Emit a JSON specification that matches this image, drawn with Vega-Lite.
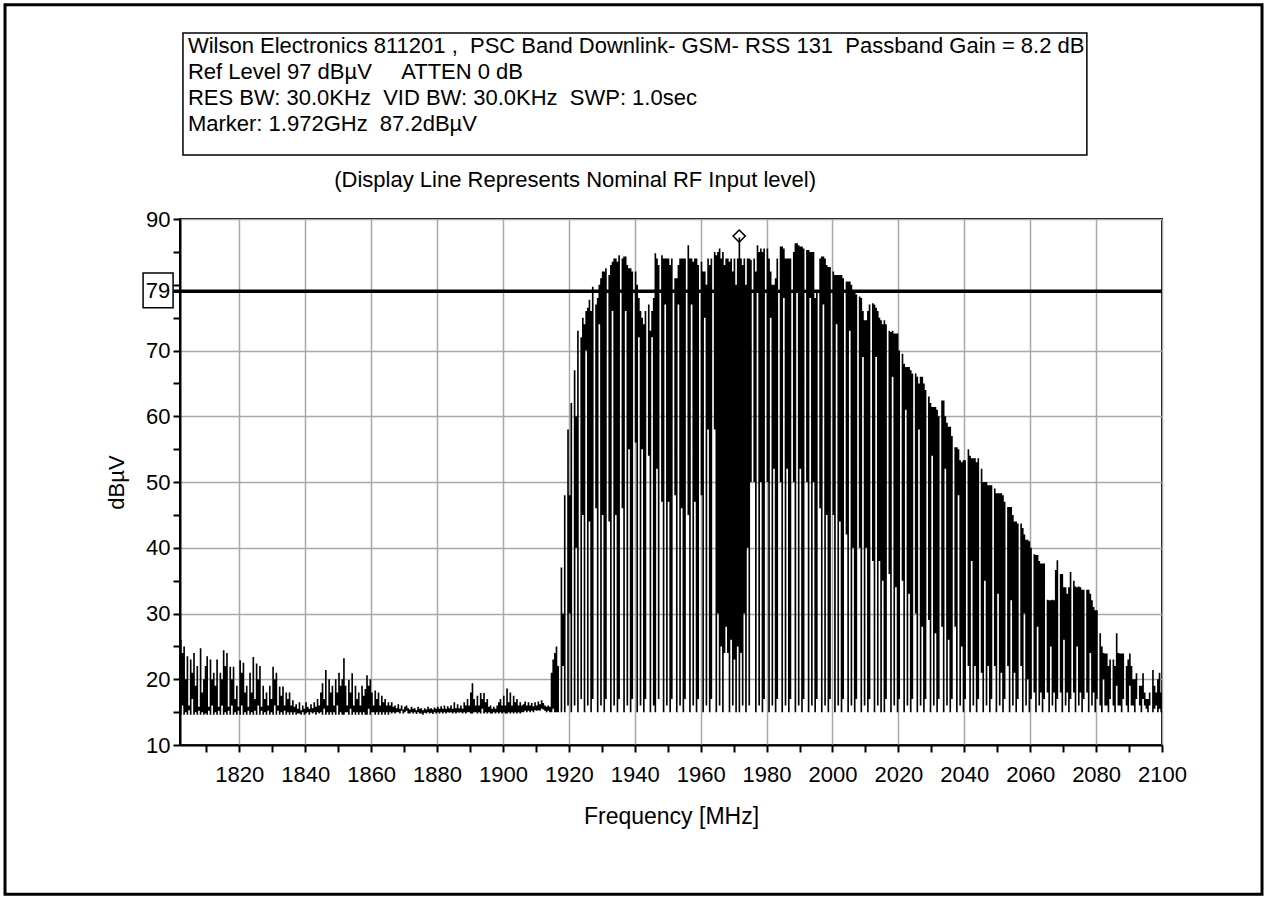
{
"$schema": "https://vega.github.io/schema/vega-lite/v6.json",
"width": 982,
"height": 526,
"autosize": {"type": "none"},
"padding": {"left": 180, "top": 219, "right": 105, "bottom": 153},
"background": "white",
"config": {"view": {"stroke": "black", "strokeWidth": 2}, "font": "Liberation Sans"},
"layer": [
{
"data": {"values": [
{"f":1802,"hi":26,"lo":14.6},{"f":1802.5,"hi":24,"lo":16},{"f":1803,"hi":25,"lo":14.6},{"f":1803.5,"hi":20,"lo":15},{"f":1804,"hi":23.5,"lo":14.6},{"f":1804.5,"hi":16,"lo":15.3},{"f":1805,"hi":23,"lo":14.6},{"f":1805.5,"hi":21,"lo":17},{"f":1806,"hi":24,"lo":14.6},{"f":1806.5,"hi":19,"lo":15},{"f":1807,"hi":22,"lo":14.6},{"f":1807.5,"hi":15.8,"lo":15.2},{"f":1808,"hi":24.7,"lo":14.6},{"f":1808.5,"hi":18,"lo":15},{"f":1809,"hi":20,"lo":14.6},{"f":1809.5,"hi":22,"lo":14.8},{"f":1810,"hi":23.5,"lo":14.6},{"f":1810.5,"hi":15.8,"lo":15.2},{"f":1811,"hi":23,"lo":14.6},{"f":1811.5,"hi":20,"lo":16},{"f":1812,"hi":21,"lo":14.6},{"f":1812.5,"hi":19,"lo":15},{"f":1813,"hi":23,"lo":14.6},{"f":1813.5,"hi":15.8,"lo":15.2},{"f":1814,"hi":21,"lo":14.6},{"f":1814.5,"hi":20,"lo":16},{"f":1815,"hi":24.4,"lo":14.6},{"f":1815.5,"hi":22,"lo":15},{"f":1816,"hi":24,"lo":14.6},{"f":1816.5,"hi":15.8,"lo":15.2},{"f":1817,"hi":21.9,"lo":14.6},{"f":1817.5,"hi":20,"lo":16},{"f":1818,"hi":21.9,"lo":14.6},{"f":1818.5,"hi":17,"lo":15},{"f":1819,"hi":19,"lo":14.6},{"f":1819.5,"hi":15.8,"lo":15.2},{"f":1820,"hi":22.9,"lo":14.6},{"f":1820.5,"hi":21,"lo":16},{"f":1821,"hi":22.5,"lo":14.6},{"f":1821.5,"hi":18,"lo":15},{"f":1822,"hi":19,"lo":14.6},{"f":1822.5,"hi":15.8,"lo":15.2},{"f":1823,"hi":21,"lo":14.6},{"f":1823.5,"hi":18,"lo":15},{"f":1824,"hi":23.4,"lo":14.6},{"f":1824.5,"hi":17,"lo":15.2},{"f":1825,"hi":22.4,"lo":14.6},{"f":1825.5,"hi":20,"lo":16},{"f":1826,"hi":22,"lo":14.6},{"f":1826.5,"hi":15.8,"lo":15.2},{"f":1827,"hi":19,"lo":14.6},{"f":1827.5,"hi":17,"lo":15},{"f":1828,"hi":18,"lo":14.6},{"f":1828.5,"hi":16,"lo":15.2},{"f":1829,"hi":19,"lo":14.6},{"f":1829.5,"hi":17,"lo":15},{"f":1830,"hi":21.9,"lo":14.6},{"f":1830.5,"hi":20,"lo":16},{"f":1831,"hi":21,"lo":14.6},{"f":1831.5,"hi":16,"lo":15.2},{"f":1832,"hi":18.9,"lo":14.6},{"f":1832.5,"hi":17.5,"lo":15},{"f":1833,"hi":18.9,"lo":14.6},{"f":1833.5,"hi":16,"lo":15.2},{"f":1834,"hi":18,"lo":14.6},{"f":1834.5,"hi":17,"lo":15},{"f":1835,"hi":18,"lo":14.6},{"f":1835.5,"hi":16,"lo":15},{"f":1836,"hi":16.8,"lo":14.6},{"f":1836.5,"hi":15.8,"lo":15},{"f":1837,"hi":16.2,"lo":14.6},{"f":1837.5,"hi":15.5,"lo":14.8},{"f":1838,"hi":16.5,"lo":14.8},{"f":1838.5,"hi":15.3,"lo":14.6},{"f":1839,"hi":16,"lo":15},{"f":1839.5,"hi":15.5,"lo":14.6},{"f":1840,"hi":16.5,"lo":14.8},{"f":1840.5,"hi":15.8,"lo":15},{"f":1841,"hi":15.5,"lo":14.6},{"f":1841.5,"hi":16.2,"lo":15},{"f":1842,"hi":15.6,"lo":14.8},{"f":1842.5,"hi":16.5,"lo":15},{"f":1843,"hi":15.8,"lo":14.6},{"f":1843.5,"hi":17,"lo":15},{"f":1844,"hi":16,"lo":14.8},{"f":1844.5,"hi":18,"lo":15},{"f":1845,"hi":19.4,"lo":14.6},{"f":1845.5,"hi":17,"lo":15.5},{"f":1846,"hi":21.4,"lo":14.6},{"f":1846.5,"hi":16,"lo":15},{"f":1847,"hi":20,"lo":14.6},{"f":1847.5,"hi":18,"lo":15},{"f":1848,"hi":19,"lo":14.6},{"f":1848.5,"hi":16,"lo":15},{"f":1849,"hi":20,"lo":14.6},{"f":1849.5,"hi":18,"lo":16},{"f":1850,"hi":21,"lo":14.6},{"f":1850.5,"hi":19,"lo":15},{"f":1851,"hi":20,"lo":14.6},{"f":1851.5,"hi":23.2,"lo":14.6},{"f":1852,"hi":19,"lo":15},{"f":1852.5,"hi":16,"lo":15},{"f":1853,"hi":19.9,"lo":14.6},{"f":1853.5,"hi":18,"lo":15.5},{"f":1854,"hi":20.9,"lo":14.6},{"f":1854.5,"hi":16,"lo":15},{"f":1855,"hi":19,"lo":14.6},{"f":1855.5,"hi":17,"lo":15},{"f":1856,"hi":18,"lo":14.6},{"f":1856.5,"hi":16,"lo":15},{"f":1857,"hi":19,"lo":14.6},{"f":1857.5,"hi":17.5,"lo":15},{"f":1858,"hi":18.5,"lo":14.6},{"f":1858.5,"hi":20.6,"lo":14.6},{"f":1859,"hi":19,"lo":15.5},{"f":1859.5,"hi":20,"lo":14.6},{"f":1860,"hi":18,"lo":15},{"f":1860.5,"hi":16,"lo":15},{"f":1861,"hi":18.3,"lo":14.6},{"f":1861.5,"hi":17,"lo":15},{"f":1862,"hi":18,"lo":14.6},{"f":1862.5,"hi":16,"lo":15},{"f":1863,"hi":17.5,"lo":14.6},{"f":1863.5,"hi":16.5,"lo":15},{"f":1864,"hi":17,"lo":14.6},{"f":1864.5,"hi":16,"lo":15},{"f":1865,"hi":16.5,"lo":14.6},{"f":1865.5,"hi":16,"lo":15},{"f":1866,"hi":16.5,"lo":14.8},{"f":1866.5,"hi":15.8,"lo":15},{"f":1867,"hi":16,"lo":14.8},{"f":1867.5,"hi":15.6,"lo":15},{"f":1868,"hi":16.2,"lo":15},{"f":1868.5,"hi":15.5,"lo":14.8},{"f":1869,"hi":16,"lo":15.2},{"f":1869.5,"hi":15.4,"lo":14.8},{"f":1870,"hi":15.8,"lo":15},{"f":1870.5,"hi":16,"lo":15.2},{"f":1871,"hi":15.6,"lo":14.8},{"f":1871.5,"hi":15.4,"lo":14.8},{"f":1872,"hi":15.8,"lo":15},{"f":1872.5,"hi":15.5,"lo":14.8},{"f":1873,"hi":15.6,"lo":15},{"f":1873.5,"hi":15.3,"lo":14.7},{"f":1874,"hi":15.8,"lo":15},{"f":1874.5,"hi":15.5,"lo":14.8},{"f":1875,"hi":15.6,"lo":14.8},{"f":1875.5,"hi":15.3,"lo":14.6},{"f":1876,"hi":15.6,"lo":14.9},{"f":1876.5,"hi":15.4,"lo":14.8},{"f":1877,"hi":15.8,"lo":15},{"f":1877.5,"hi":15.5,"lo":14.8},{"f":1878,"hi":15.6,"lo":14.9},{"f":1878.5,"hi":15.4,"lo":14.7},{"f":1879,"hi":15.7,"lo":15},{"f":1879.5,"hi":15.5,"lo":14.8},{"f":1880,"hi":15.8,"lo":15},{"f":1880.5,"hi":15.5,"lo":14.8},{"f":1881,"hi":15.9,"lo":15},{"f":1881.5,"hi":15.5,"lo":14.8},{"f":1882,"hi":16,"lo":15},{"f":1882.5,"hi":15.5,"lo":14.8},{"f":1883,"hi":15.9,"lo":15},{"f":1883.5,"hi":15.6,"lo":14.9},{"f":1884,"hi":16,"lo":15},{"f":1884.5,"hi":15.5,"lo":14.8},{"f":1885,"hi":16.5,"lo":15},{"f":1885.5,"hi":15.6,"lo":14.8},{"f":1886,"hi":16.2,"lo":15},{"f":1886.5,"hi":15.6,"lo":14.9},{"f":1887,"hi":16,"lo":15},{"f":1887.5,"hi":15.5,"lo":14.8},{"f":1888,"hi":16.5,"lo":15},{"f":1888.5,"hi":16,"lo":14.8},{"f":1889,"hi":17,"lo":15},{"f":1889.5,"hi":16,"lo":15},{"f":1890,"hi":18,"lo":14.8},{"f":1890.5,"hi":19.4,"lo":14.8},{"f":1891,"hi":17,"lo":15},{"f":1891.5,"hi":16,"lo":15},{"f":1892,"hi":17.5,"lo":14.8},{"f":1892.5,"hi":16,"lo":15},{"f":1893,"hi":17.9,"lo":14.8},{"f":1893.5,"hi":17,"lo":15.5},{"f":1894,"hi":17.9,"lo":14.8},{"f":1894.5,"hi":16.5,"lo":15},{"f":1895,"hi":17,"lo":14.8},{"f":1895.5,"hi":15.8,"lo":15},{"f":1896,"hi":16,"lo":14.8},{"f":1896.5,"hi":15.5,"lo":14.8},{"f":1897,"hi":15.8,"lo":15},{"f":1897.5,"hi":15.5,"lo":14.8},{"f":1898,"hi":16,"lo":15},{"f":1898.5,"hi":16.5,"lo":14.8},{"f":1899,"hi":17,"lo":15},{"f":1899.5,"hi":16,"lo":14.8},{"f":1900,"hi":17.5,"lo":15},{"f":1900.5,"hi":16,"lo":14.8},{"f":1901,"hi":18.6,"lo":14.8},{"f":1901.5,"hi":16.5,"lo":15},{"f":1902,"hi":18,"lo":14.8},{"f":1902.5,"hi":16,"lo":15},{"f":1903,"hi":17.5,"lo":14.8},{"f":1903.5,"hi":16.5,"lo":15},{"f":1904,"hi":17,"lo":14.8},{"f":1904.5,"hi":16,"lo":15},{"f":1905,"hi":16.5,"lo":14.8},{"f":1905.5,"hi":16,"lo":15},{"f":1906,"hi":16.2,"lo":15},{"f":1906.5,"hi":16.6,"lo":15.2},{"f":1907,"hi":16,"lo":15},{"f":1907.5,"hi":16.5,"lo":15.2},{"f":1908,"hi":16,"lo":15},{"f":1908.5,"hi":16.4,"lo":15.2},{"f":1909,"hi":15.9,"lo":15},{"f":1909.5,"hi":16.5,"lo":15.3},{"f":1910,"hi":16,"lo":15.2},{"f":1910.5,"hi":16.6,"lo":15.3},{"f":1911,"hi":16.2,"lo":15.2},{"f":1911.5,"hi":16.8,"lo":15.5},{"f":1912,"hi":16.4,"lo":15.4},{"f":1912.5,"hi":16,"lo":15.2},{"f":1913,"hi":15.8,"lo":15},{"f":1913.5,"hi":16,"lo":15.2},{"f":1914,"hi":15.8,"lo":15},{"f":1914.5,"hi":21,"lo":15},{"f":1915,"hi":23,"lo":15.5},{"f":1915.5,"hi":24,"lo":15},
{"f":1916,"hi":25,"lo":15},{"f":1916.5,"hi":22,"lo":15},{"f":1917,"hi":15,"lo":15},{"f":1917.5,"hi":37,"lo":15},{"f":1918,"hi":30,"lo":22},{"f":1918.5,"hi":48,"lo":15},{"f":1919,"hi":15,"lo":15},{"f":1919.5,"hi":58,"lo":16},{"f":1920,"hi":48,"lo":30},{"f":1920.5,"hi":62,"lo":15},{"f":1921,"hi":15,"lo":15},{"f":1921.5,"hi":67,"lo":16},{"f":1922,"hi":60,"lo":40},{"f":1922.5,"hi":73,"lo":15},{"f":1923,"hi":15,"lo":15},{"f":1923.5,"hi":72,"lo":17},
{"f":1924,"hi":75,"lo":45},{"f":1924.5,"hi":74,"lo":15},{"f":1925,"hi":76,"lo":70},{"f":1925.5,"hi":76.5,"lo":16},{"f":1926,"hi":77.7,"lo":44},{"f":1926.5,"hi":76,"lo":15},{"f":1927,"hi":79.7,"lo":17},{"f":1927.5,"hi":15,"lo":15},{"f":1928,"hi":77,"lo":46},{"f":1928.5,"hi":78,"lo":15},{"f":1929,"hi":80,"lo":74},{"f":1929.5,"hi":81,"lo":16},{"f":1930,"hi":82,"lo":45},{"f":1930.5,"hi":82,"lo":15},{"f":1931,"hi":82.5,"lo":17},{"f":1931.5,"hi":15,"lo":15},{"f":1932,"hi":81.5,"lo":44},{"f":1932.5,"hi":83,"lo":15},{"f":1933,"hi":83.5,"lo":76},{"f":1933.5,"hi":84,"lo":16},{"f":1934,"hi":84,"lo":45},{"f":1934.5,"hi":83.5,"lo":15},{"f":1935,"hi":84.5,"lo":17},{"f":1935.5,"hi":15,"lo":15},{"f":1936,"hi":84,"lo":46},{"f":1936.5,"hi":84.3,"lo":15},{"f":1937,"hi":84.3,"lo":76},{"f":1937.5,"hi":83,"lo":16},{"f":1938,"hi":82.5,"lo":55},{"f":1938.5,"hi":82.5,"lo":15},{"f":1939,"hi":82,"lo":17},{"f":1939.5,"hi":15,"lo":15},{"f":1940,"hi":82,"lo":56},{"f":1940.5,"hi":80,"lo":15},{"f":1941,"hi":78,"lo":72},{"f":1941.5,"hi":76,"lo":16},{"f":1942,"hi":75,"lo":55},{"f":1942.5,"hi":74,"lo":15},{"f":1943,"hi":76,"lo":17},{"f":1943.5,"hi":15,"lo":15},{"f":1944,"hi":77,"lo":54},{"f":1944.5,"hi":73,"lo":15},{"f":1945,"hi":76,"lo":72},{"f":1945.5,"hi":78,"lo":16},{"f":1946,"hi":84.8,"lo":15},{"f":1946.5,"hi":84,"lo":52},{"f":1947,"hi":83,"lo":17},{"f":1947.5,"hi":15,"lo":15},{"f":1948,"hi":84.5,"lo":47},{"f":1948.5,"hi":84,"lo":15},{"f":1949,"hi":84,"lo":77},{"f":1949.5,"hi":84,"lo":16},{"f":1950,"hi":84,"lo":47},{"f":1950.5,"hi":83,"lo":15},{"f":1951,"hi":84,"lo":17},{"f":1951.5,"hi":15,"lo":15},{"f":1952,"hi":81,"lo":48},{"f":1952.5,"hi":81,"lo":15},{"f":1953,"hi":83,"lo":77},{"f":1953.5,"hi":84,"lo":16},{"f":1954,"hi":84,"lo":46},{"f":1954.5,"hi":84,"lo":15},{"f":1955,"hi":84,"lo":17},{"f":1955.5,"hi":15,"lo":15},{"f":1956,"hi":86,"lo":45},{"f":1956.5,"hi":84,"lo":15},{"f":1957,"hi":84,"lo":77},{"f":1957.5,"hi":83.5,"lo":16},{"f":1958,"hi":84,"lo":47},{"f":1958.5,"hi":84,"lo":15},{"f":1959,"hi":83,"lo":17},{"f":1959.5,"hi":15,"lo":15},{"f":1960,"hi":83.5,"lo":48},{"f":1960.5,"hi":82,"lo":15},{"f":1961,"hi":82,"lo":75},{"f":1961.5,"hi":80,"lo":16},{"f":1962,"hi":84,"lo":58},{"f":1962.5,"hi":83,"lo":15},{"f":1963,"hi":84,"lo":17},{"f":1963.5,"hi":15,"lo":15},{"f":1964,"hi":85,"lo":58},{"f":1964.5,"hi":84.5,"lo":15},{"f":1965,"hi":85,"lo":30},{"f":1965.5,"hi":85.5,"lo":16},{"f":1966,"hi":84,"lo":25},{"f":1966.5,"hi":85,"lo":15},{"f":1967,"hi":83,"lo":24},{"f":1967.5,"hi":84,"lo":28},{"f":1968,"hi":84,"lo":24},{"f":1968.5,"hi":83.5,"lo":15},{"f":1969,"hi":84,"lo":26},{"f":1969.5,"hi":82,"lo":16},{"f":1970,"hi":84,"lo":23},{"f":1970.5,"hi":80,"lo":15},{"f":1971,"hi":84,"lo":25},{"f":1971.5,"hi":87.2,"lo":15},{"f":1972,"hi":84,"lo":24},{"f":1972.5,"hi":83,"lo":16},{"f":1973,"hi":84,"lo":30},{"f":1973.5,"hi":80,"lo":15},{"f":1974,"hi":84,"lo":40},{"f":1974.5,"hi":84,"lo":16},{"f":1975,"hi":83.8,"lo":50},{"f":1975.5,"hi":15,"lo":15},{"f":1976,"hi":84,"lo":50},{"f":1976.5,"hi":82,"lo":15},{"f":1977,"hi":86,"lo":79},{"f":1977.5,"hi":85,"lo":16},{"f":1978,"hi":85.5,"lo":50},{"f":1978.5,"hi":85,"lo":15},{"f":1979,"hi":85.5,"lo":17},{"f":1979.5,"hi":15,"lo":15},{"f":1980,"hi":85.5,"lo":50},{"f":1980.5,"hi":84,"lo":15},{"f":1981,"hi":82,"lo":75},{"f":1981.5,"hi":80,"lo":16},{"f":1982,"hi":80,"lo":52},{"f":1982.5,"hi":81,"lo":15},{"f":1983,"hi":84,"lo":17},{"f":1983.5,"hi":15,"lo":15},{"f":1984,"hi":85.8,"lo":50},{"f":1984.5,"hi":85.8,"lo":15},{"f":1985,"hi":85.5,"lo":78},{"f":1985.5,"hi":84,"lo":16},{"f":1986,"hi":84,"lo":52},{"f":1986.5,"hi":84,"lo":15},{"f":1987,"hi":84,"lo":17},{"f":1987.5,"hi":15,"lo":15},{"f":1988,"hi":85,"lo":50},{"f":1988.5,"hi":86.3,"lo":15},{"f":1989,"hi":86.3,"lo":79},{"f":1989.5,"hi":86,"lo":16},{"f":1990,"hi":85.8,"lo":52},{"f":1990.5,"hi":85.8,"lo":15},{"f":1991,"hi":85.5,"lo":17},{"f":1991.5,"hi":15,"lo":15},{"f":1992,"hi":85.3,"lo":50},{"f":1992.5,"hi":85.3,"lo":15},{"f":1993,"hi":85,"lo":78},{"f":1993.5,"hi":85,"lo":16},{"f":1994,"hi":85,"lo":50},{"f":1994.5,"hi":78,"lo":15},{"f":1995,"hi":79,"lo":17},{"f":1995.5,"hi":15,"lo":15},{"f":1996,"hi":84,"lo":46},{"f":1996.5,"hi":84.3,"lo":15},{"f":1997,"hi":84.3,"lo":77},{"f":1997.5,"hi":84,"lo":16},{"f":1998,"hi":83,"lo":45},{"f":1998.5,"hi":82.7,"lo":15},{"f":1999,"hi":82.7,"lo":17},{"f":1999.5,"hi":15,"lo":15},{"f":2000,"hi":82,"lo":45},{"f":2000.5,"hi":81.5,"lo":15},{"f":2001,"hi":81.5,"lo":74},{"f":2001.5,"hi":81.5,"lo":16},{"f":2002,"hi":81.5,"lo":44},{"f":2002.5,"hi":81.5,"lo":15},{"f":2003,"hi":81,"lo":17},{"f":2003.5,"hi":15,"lo":15},{"f":2004,"hi":80.5,"lo":42},{"f":2004.5,"hi":80.5,"lo":15},{"f":2005,"hi":80.5,"lo":73},{"f":2005.5,"hi":80,"lo":16},{"f":2006,"hi":79.2,"lo":40},{"f":2006.5,"hi":79,"lo":15},{"f":2007,"hi":78.5,"lo":17},{"f":2007.5,"hi":15,"lo":15},{"f":2008,"hi":78.2,"lo":40},{"f":2008.5,"hi":78,"lo":15},{"f":2009,"hi":76,"lo":69},{"f":2009.5,"hi":74.6,"lo":16},{"f":2010,"hi":74.6,"lo":40},{"f":2010.5,"hi":76,"lo":15},{"f":2011,"hi":77,"lo":17},{"f":2011.5,"hi":15,"lo":15},{"f":2012,"hi":77.2,"lo":38},{"f":2012.5,"hi":77,"lo":15},{"f":2013,"hi":76.5,"lo":69},{"f":2013.5,"hi":76,"lo":16},{"f":2014,"hi":75,"lo":38},{"f":2014.5,"hi":74.6,"lo":15},
{"f":2015,"hi":74,"lo":35},{"f":2015.5,"hi":74.6,"lo":15},{"f":2016,"hi":74,"lo":17},{"f":2016.5,"hi":15,"lo":15},{"f":2017,"hi":73,"lo":36},{"f":2017.5,"hi":72.8,"lo":15},{"f":2018,"hi":73,"lo":66},{"f":2018.5,"hi":72.6,"lo":16},{"f":2019,"hi":72.6,"lo":34},{"f":2019.5,"hi":72.6,"lo":15},{"f":2020,"hi":70,"lo":17},{"f":2020.5,"hi":15,"lo":15},{"f":2021,"hi":69.5,"lo":35},{"f":2021.5,"hi":68,"lo":15},{"f":2022,"hi":67.5,"lo":61},{"f":2022.5,"hi":67.5,"lo":16},{"f":2023,"hi":67.5,"lo":33},{"f":2023.5,"hi":67,"lo":15},{"f":2024,"hi":66.5,"lo":17},{"f":2024.5,"hi":15,"lo":15},{"f":2025,"hi":66.5,"lo":30},{"f":2025.5,"hi":66,"lo":15},{"f":2026,"hi":65,"lo":58},{"f":2026.5,"hi":66,"lo":16},{"f":2027,"hi":66,"lo":28},{"f":2027.5,"hi":65,"lo":15},{"f":2028,"hi":64,"lo":17},{"f":2028.5,"hi":15,"lo":15},{"f":2029,"hi":63,"lo":29},{"f":2029.5,"hi":62,"lo":15},{"f":2030,"hi":61.4,"lo":54},{"f":2030.5,"hi":61.4,"lo":16},{"f":2031,"hi":61.4,"lo":27},{"f":2031.5,"hi":61,"lo":15},{"f":2032,"hi":60,"lo":17},{"f":2032.5,"hi":15,"lo":15},{"f":2033,"hi":62.4,"lo":28},{"f":2033.5,"hi":62.4,"lo":15},{"f":2034,"hi":60,"lo":52},{"f":2034.5,"hi":59,"lo":16},{"f":2035,"hi":58.4,"lo":26},{"f":2035.5,"hi":58.4,"lo":15},{"f":2036,"hi":57,"lo":17},{"f":2036.5,"hi":15,"lo":15},{"f":2037,"hi":55.3,"lo":28},{"f":2037.5,"hi":55.3,"lo":15},{"f":2038,"hi":55,"lo":48},{"f":2038.5,"hi":53.3,"lo":16},{"f":2039,"hi":53,"lo":25},{"f":2039.5,"hi":53.3,"lo":15},{"f":2040,"hi":53.3,"lo":17},{"f":2040.5,"hi":15,"lo":15},{"f":2041,"hi":55,"lo":22},{"f":2041.5,"hi":54,"lo":15},{"f":2042,"hi":53.6,"lo":38},{"f":2042.5,"hi":53.6,"lo":16},{"f":2043,"hi":53.6,"lo":22},{"f":2043.5,"hi":53,"lo":15},{"f":2044,"hi":53.6,"lo":17},{"f":2044.5,"hi":15,"lo":15},{"f":2045,"hi":52,"lo":21},{"f":2045.5,"hi":50,"lo":15},{"f":2046,"hi":50,"lo":35},{"f":2046.5,"hi":50,"lo":16},{"f":2047,"hi":49.5,"lo":22},{"f":2047.5,"hi":49.5,"lo":15},{"f":2048,"hi":49.5,"lo":17},{"f":2048.5,"hi":15,"lo":15},{"f":2049,"hi":49,"lo":22},{"f":2049.5,"hi":48.3,"lo":15},{"f":2050,"hi":48.3,"lo":33},{"f":2050.5,"hi":48.3,"lo":16},{"f":2051,"hi":48.3,"lo":21},{"f":2051.5,"hi":48,"lo":15},{"f":2052,"hi":47,"lo":17},{"f":2052.5,"hi":15,"lo":15},{"f":2053,"hi":46.2,"lo":22},{"f":2053.5,"hi":46.2,"lo":15},{"f":2054,"hi":46.2,"lo":32},{"f":2054.5,"hi":45,"lo":16},{"f":2055,"hi":44,"lo":21},{"f":2055.5,"hi":44,"lo":15},{"f":2056,"hi":43.7,"lo":17},{"f":2056.5,"hi":15,"lo":15},{"f":2057,"hi":43.7,"lo":22},{"f":2057.5,"hi":43,"lo":15},{"f":2058,"hi":42,"lo":30},{"f":2058.5,"hi":41.2,"lo":16},{"f":2059,"hi":41.2,"lo":20},{"f":2059.5,"hi":41,"lo":15},{"f":2060,"hi":40,"lo":17},{"f":2060.5,"hi":15,"lo":15},{"f":2061,"hi":39,"lo":18},{"f":2061.5,"hi":38.9,"lo":15},{"f":2062,"hi":38.9,"lo":28},{"f":2062.5,"hi":38,"lo":16},{"f":2063,"hi":37.6,"lo":18},{"f":2063.5,"hi":37.6,"lo":15},{"f":2064,"hi":37.6,"lo":17},{"f":2064.5,"hi":15,"lo":15},{"f":2065,"hi":32.1,"lo":18},{"f":2065.5,"hi":32,"lo":15},{"f":2066,"hi":32,"lo":25},{"f":2066.5,"hi":32.1,"lo":16},{"f":2067,"hi":32,"lo":18},{"f":2067.5,"hi":36.6,"lo":15},{"f":2068,"hi":38.1,"lo":17},{"f":2068.5,"hi":15,"lo":15},{"f":2069,"hi":36,"lo":18},{"f":2069.5,"hi":36,"lo":15},{"f":2070,"hi":34,"lo":26},{"f":2070.5,"hi":34,"lo":16},{"f":2071,"hi":33,"lo":18},{"f":2071.5,"hi":34,"lo":15},{"f":2072,"hi":36.3,"lo":17},{"f":2072.5,"hi":15,"lo":15},{"f":2073,"hi":35,"lo":18},{"f":2073.5,"hi":34.1,"lo":15},{"f":2074,"hi":34,"lo":25},{"f":2074.5,"hi":34.1,"lo":16},{"f":2075,"hi":34,"lo":18},{"f":2075.5,"hi":33.6,"lo":15},{"f":2076,"hi":33.6,"lo":17},{"f":2076.5,"hi":15,"lo":15},{"f":2077,"hi":33.6,"lo":18},{"f":2077.5,"hi":33.6,"lo":15},{"f":2078,"hi":33,"lo":24},{"f":2078.5,"hi":32,"lo":16},{"f":2079,"hi":31,"lo":18},{"f":2079.5,"hi":30.5,"lo":15},{"f":2080,"hi":30.5,"lo":17},{"f":2080.5,"hi":15,"lo":15},{"f":2081,"hi":27,"lo":16},{"f":2081.5,"hi":25,"lo":15},{"f":2082,"hi":24,"lo":20},{"f":2082.5,"hi":23.9,"lo":16},{"f":2083,"hi":23.9,"lo":16},{"f":2083.5,"hi":22,"lo":15},{"f":2084,"hi":23,"lo":17},{"f":2084.5,"hi":15,"lo":15},{"f":2085,"hi":23,"lo":16},{"f":2085.5,"hi":22,"lo":15},{"f":2086,"hi":27,"lo":19},{"f":2086.5,"hi":24,"lo":16},{"f":2087,"hi":23.9,"lo":16},{"f":2087.5,"hi":23.9,"lo":15},{"f":2088,"hi":23.9,"lo":17},{"f":2088.5,"hi":15,"lo":15},{"f":2089,"hi":22,"lo":16},{"f":2089.5,"hi":23,"lo":15},{"f":2090,"hi":23.9,"lo":19},{"f":2090.5,"hi":22,"lo":16},{"f":2091,"hi":20,"lo":16},{"f":2091.5,"hi":20,"lo":15},{"f":2092,"hi":20.9,"lo":17},{"f":2092.5,"hi":15,"lo":15},{"f":2093,"hi":19,"lo":16},{"f":2093.5,"hi":19,"lo":15},{"f":2094,"hi":20.9,"lo":17},{"f":2094.5,"hi":18,"lo":16},{"f":2095,"hi":17,"lo":15.5},{"f":2095.5,"hi":17,"lo":15},{"f":2096,"hi":18,"lo":16},{"f":2096.5,"hi":15,"lo":15},{"f":2097,"hi":21.4,"lo":15},{"f":2097.5,"hi":19,"lo":15.5},{"f":2098,"hi":18,"lo":16},{"f":2098.5,"hi":20,"lo":15},{"f":2099,"hi":21,"lo":15.5},{"f":2099.5,"hi":18,"lo":15},{"f":2100,"hi":21,"lo":15}
]},
"mark": {"type": "area", "interpolate": "step-after", "color": "black", "opacity": 1},
"encoding": {
"x": {"field": "f", "type": "quantitative",
 "scale": {"domain": [1802, 2100], "nice": false, "zero": false},
 "axis": {"title": "Frequency [MHz]", "tickCount": 60, "values": [1810,1820,1830,1840,1850,1860,1870,1880,1890,1900,1910,1920,1930,1940,1950,1960,1970,1980,1990,2000,2010,2020,2030,2040,2050,2060,2070,2080,2090,2100],
  "format": "d", "labelExpr": "datum.value % 20 === 0 ? datum.label : ''",
  "grid": true, "gridColor": "#a8a8a8", "gridWidth": 1.5,
  "gridOpacity": {"condition": {"test": "datum.value % 20 === 0", "value": 1}, "value": 0},
  "domainColor": "black", "domainWidth": 2, "tickColor": "black", "tickWidth": 2, "tickSize": 7,
  "labelFont": "Liberation Sans", "labelFontSize": 22, "labelColor": "black", "labelPadding": 12, "labelFlush": false, "labelOverlap": false,
  "titleFont": "Liberation Sans", "titleFontSize": 23, "titleFontWeight": "normal", "titleColor": "black", "titlePadding": 20}},
"y": {"field": "hi", "type": "quantitative",
 "scale": {"domain": [10, 90], "nice": false, "zero": false},
 "axis": {"title": "dBµV", "tickCount": 40, "values": [10,15,20,25,30,35,40,45,50,55,60,65,70,75,80,85,90],
  "labelExpr": "datum.value % 10 === 0 && datum.value !== 80 ? datum.label : ''",
  "grid": true, "gridColor": "#a8a8a8", "gridWidth": 1.5,
  "gridOpacity": {"condition": {"test": "datum.value % 10 === 0 && datum.value !== 80", "value": 1}, "value": 0},
  "domainColor": "black", "domainWidth": 2, "tickColor": "black", "tickWidth": 2, "tickSize": 7,
  "labelFont": "Liberation Sans", "labelFontSize": 22, "labelColor": "black", "labelPadding": 3, "labelOverlap": false,
  "titleFont": "Liberation Sans", "titleFontSize": 22, "titleFontWeight": "normal", "titleColor": "black", "titlePadding": 17}},
"y2": {"field": "lo"}
}
},
{
"data": {"values": [{}]},
"mark": {"type": "rule", "color": "black", "strokeWidth": 3.5},
"encoding": {"x": {"datum": 1799.9, "type": "quantitative"}, "x2": {"datum": 2100}, "y": {"datum": 79, "type": "quantitative"}}
},
{
"data": {"values": [{}]},
"mark": {"type": "point", "shape": "diamond", "filled": false, "stroke": "black", "strokeWidth": 1.5, "size": 150, "opacity": 1},
"encoding": {"x": {"datum": 1971.7, "type": "quantitative"}, "y": {"datum": 87.4, "type": "quantitative"}}
},
{
"data": {"values": [{}]},
"mark": {"type": "rect", "fill": "white", "stroke": "black", "strokeWidth": 1.5},
"encoding": {"x": {"datum": 1790.8, "type": "quantitative"}, "x2": {"datum": 1799.9}, "y": {"datum": 81.8, "type": "quantitative"}, "y2": {"datum": 76.5}}
},
{
"data": {"values": [{}]},
"mark": {"type": "text", "text": "79", "font": "Liberation Sans", "fontSize": 22, "align": "center", "baseline": "middle", "color": "black"},
"encoding": {"x": {"datum": 1795.3, "type": "quantitative"}, "y": {"datum": 79.1, "type": "quantitative"}}
},
{
"data": {"values": [{}]},
"mark": {"type": "rect", "fill": "white", "stroke": "black", "strokeWidth": 1.5},
"encoding": {"x": {"datum": 1802.9, "type": "quantitative"}, "x2": {"datum": 2077.2}, "y": {"datum": 118.29, "type": "quantitative"}, "y2": {"datum": 99.73}}
},
{
"data": {"values": [{}]},
"mark": {"type": "text", "text": ["Wilson Electronics 811201 ,\u00a0 PSC Band Downlink- GSM- RSS 131\u00a0 Passband Gain = 8.2 dB", "Ref Level 97 dBµV\u00a0\u00a0\u00a0\u00a0 ATTEN 0 dB", "RES BW: 30.0KHz\u00a0 VID BW: 30.0KHz\u00a0 SWP: 1.0sec", "Marker: 1.972GHz\u00a0 87.2dBµV"], "font": "Liberation Sans", "fontSize": 22, "lineHeight": 26, "align": "left", "baseline": "top", "color": "black"},
"encoding": {"x": {"datum": 1804.4, "type": "quantitative"}, "y": {"datum": 117.83, "type": "quantitative"}}
},
{
"data": {"values": [{}]},
"mark": {"type": "text", "text": "(Display Line Represents Nominal RF Input level)", "font": "Liberation Sans", "fontSize": 22, "align": "center", "baseline": "middle", "color": "black"},
"encoding": {"x": {"datum": 1921.9, "type": "quantitative"}, "y": {"datum": 95.93, "type": "quantitative"}}
},
{
"data": {"values": [{}]},
"mark": {"type": "rect", "fillOpacity": 0, "stroke": "black", "strokeWidth": 3},
"encoding": {"x": {"datum": 1748.9, "type": "quantitative"}, "x2": {"datum": 2130.35}, "y": {"datum": 122.6, "type": "quantitative"}, "y2": {"datum": -12.7}}
}
]
}
